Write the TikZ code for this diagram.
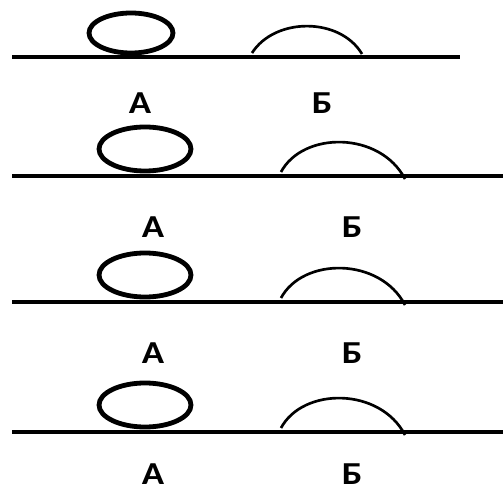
\documentclass[tikz,border=0pt]{standalone}
\usepackage{fontspec}
\setsansfont{Carlito}
\begin{document}
\begin{tikzpicture}[x=0.75pt,y=-0.75pt,
  lbl/.style={font=\sffamily\bfseries\fontsize{24}{26}\selectfont,inner sep=0pt,xscale=1.15},
  drop/.style={line width=3.6pt},
  film/.style={line width=2pt}]
        \useasboundingbox (0,0) rectangle (503,491);
        % first panel
        \draw[line width=3pt](12,57)--(460,57);
        \draw[drop](131,33) ellipse[x radius=42,y radius=20];
        \draw[film](252,53) .. controls (275,17) and (340,17) .. (362,54);
        \node[lbl] (A1) at (140,103) {А};
        \node[lbl] (B1) at (322,103) {Б};
        % other panels
        \foreach \i/\y/\t in {2/176/227,3/302/353,4/432/474}{
          \draw[line width=3pt](12,\y)--(503,\y);
          \draw[drop](145,\y-27) ellipse[x radius=46,y radius=22];
          \draw[film](281,\y-4) .. controls (303,\y-45) and (380,\y-45) .. (405,\y+3);
          \node[lbl] (A\i) at (153,\t) {А};
          \node[lbl] (B\i) at (352,\t) {Б};
        }
    \end{tikzpicture}
\end{document}
